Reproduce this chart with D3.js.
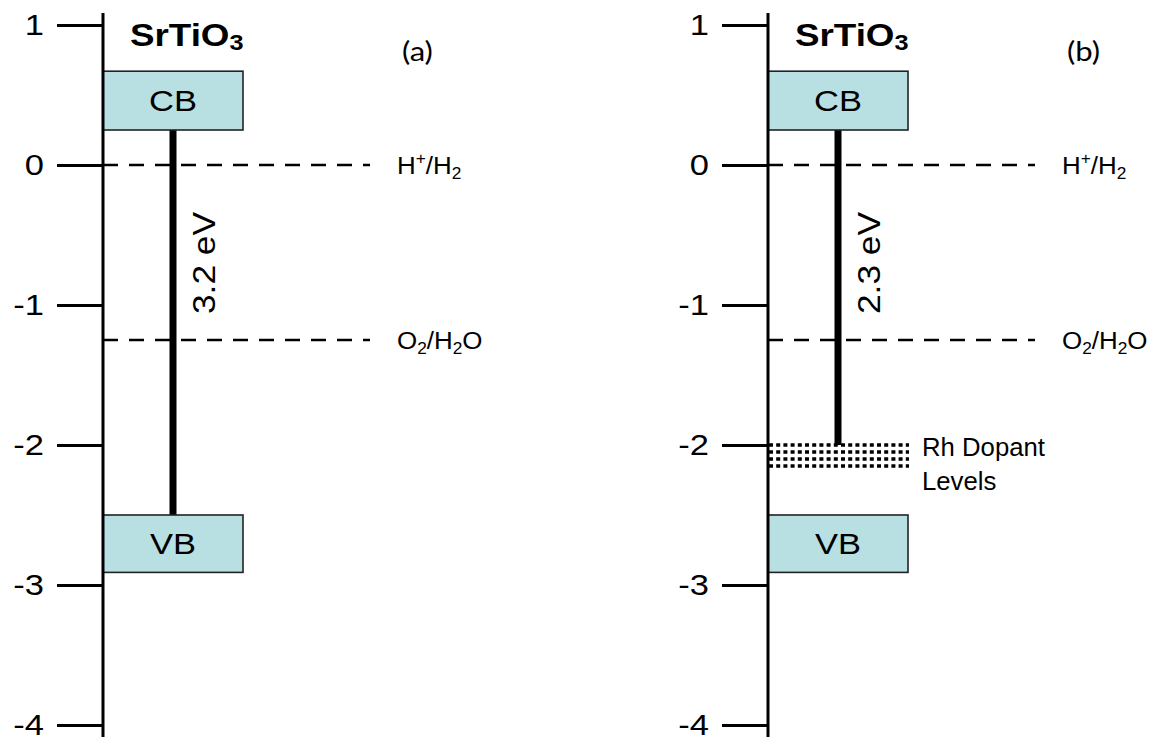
<!DOCTYPE html>
<html>
<head>
<meta charset="utf-8">
<script src="https://cdn.jsdelivr.net/npm/d3@7"></script>
<style>
  html, body { margin: 0; padding: 0; background: #fff; }
  svg { display: block; }
  text { font-family: "Liberation Sans", Arial, sans-serif; fill: #000; }
</style>
</head>
<body>
<svg id="chart" width="1152" height="738"></svg>
<script>
// Energy (V vs NHE) of the SrTiO3 bands, with and without Rh doping
const panelLabels = ["(a)", "(b)"];
const materialName = "SrTiO";
const materialSub = "3";
const yTickValues = [1, 0, -1, -2, -3, -4];
const cbEdges = [0.25, 0.67];          // conduction band bottom / top
const vbEdges = [-2.91, -2.5];         // valence band bottom / top
const redoxNames = [["H", "+", "/H", "2", ""], ["O", "2", "/H", "2", "O"]];
const redoxPotentials = [0, -1.25];
const gapLabels = ["3.2 eV", "2.3 eV"];
const gapLower = [-2.5, -2.0];         // lower end of the transition bar
const dopantLevels = [-2.0, -2.05, -2.1, -2.15];
const dopantLabel = ["Rh Dopant", "Levels"];

const svg = d3.select("#chart");

const y = d3.scaleLinear().domain([1, -4]).range([25, 725]);
// horizontal placement of the two panels (axis positions)
const xPanel = d3.scaleOrdinal().domain(panelLabels).range([103, 768]);

const boxW = 140, tickLen = 46, dashEnd = 267, labelOff = 294;
const stretch = 1.15;

function stretchedText(g, x, yy, str, opts) {
  const t = g.append("text")
    .attr("transform", `translate(${x},${yy}) scale(${opts.sx || stretch},1)`)
    .attr("font-size", opts.size)
    .attr("text-anchor", opts.anchor || "start")
    .attr("dominant-baseline", opts.baseline || "central");
  if (opts.weight) t.attr("font-weight", opts.weight);
  t.text(str);
  return t;
}

panelLabels.forEach((lab, i) => {
  const x0 = xPanel(lab);
  const g = svg.append("g");

  // dashed redox potential lines
  g.selectAll("line.redox").data(redoxPotentials).enter().append("line")
    .attr("x1", x0).attr("x2", x0 + dashEnd)
    .attr("y1", d => y(d)).attr("y2", d => y(d))
    .attr("stroke", "#000").attr("stroke-width", 2.6)
    .attr("stroke-dasharray", "15,11");

  // Rh dopant levels (panel b only)
  if (i === 1) {
    g.selectAll("line.dop").data(dopantLevels).enter().append("line")
      .attr("x1", x0 + 1).attr("x2", x0 + boxW + 1)
      .attr("y1", d => y(d)).attr("y2", d => y(d))
      .attr("stroke", "#000").attr("stroke-width", 3.6)
      .attr("stroke-dasharray", "4,3.2");
  }

  // band gap transition bar
  g.append("line")
    .attr("x1", x0 + boxW / 2).attr("x2", x0 + boxW / 2)
    .attr("y1", y(cbEdges[0])).attr("y2", y(gapLower[i]))
    .attr("stroke", "#000").attr("stroke-width", 7);

  // band boxes
  const bands = [{ name: "CB", e: cbEdges }, { name: "VB", e: vbEdges }];
  bands.forEach(b => {
    g.append("rect")
      .attr("x", x0).attr("y", y(b.e[1]))
      .attr("width", boxW).attr("height", y(b.e[0]) - y(b.e[1]))
      .attr("fill", "#b8dfe2").attr("stroke", "#222").attr("stroke-width", 1.6);
    stretchedText(g, x0 + boxW / 2, (y(b.e[0]) + y(b.e[1])) / 2, b.name,
      { size: 30, anchor: "middle" });
  });

  // energy axis
  const axis = d3.axisLeft(y).tickValues(yTickValues).tickSize(tickLen).tickFormat("");
  const ag = g.append("g").attr("transform", `translate(${x0},0)`).call(axis);
  ag.select(".domain").remove();
  ag.selectAll(".tick line").attr("stroke", "#000").attr("stroke-width", 3);
  ag.selectAll(".tick text").remove();
  yTickValues.forEach(v => {
    stretchedText(g, x0 - tickLen - 13, y(v), d3.format("d")(v).replace("−", "-"),
      { size: 30, anchor: "end" });
  });
  g.append("line")
    .attr("x1", x0).attr("x2", x0)
    .attr("y1", y(1) - 12).attr("y2", y(-4) + 12)
    .attr("stroke", "#000").attr("stroke-width", 3);

  // title with subscript
  const title = g.append("text")
    .attr("transform", `translate(${x0 + 27},46) scale(1.15,1)`)
    .attr("font-size", 32).attr("font-weight", "bold");
  title.append("tspan").text(materialName);
  title.append("tspan").attr("font-size", 22).attr("dy", 4).text(materialSub);

  // panel tag
  g.append("text")
    .attr("transform", `translate(${x0 + 299},50) scale(1.15,1)`)
    .attr("dominant-baseline", "central")
    .attr("font-size", 27)
    .style("font-family", "Lato, 'Open Sans', sans-serif")
    .text(lab);

  // redox couple labels
  redoxNames.forEach((parts, k) => {
    const t = g.append("text")
      .attr("transform", `translate(${x0 + labelOff},${y(redoxPotentials[k]) + 9}) scale(1.08,1)`)
      .attr("font-size", 24);
    const supFirst = k === 0;
    t.append("tspan").text(parts[0]);
    t.append("tspan").attr("font-size", 16).attr("dy", supFirst ? -10 : 5).text(parts[1]);
    t.append("tspan").attr("dy", supFirst ? 10 : -5).text(parts[2]);
    t.append("tspan").attr("font-size", 16).attr("dy", 5).text(parts[3]);
    if (parts[4]) t.append("tspan").attr("dy", -5).text(parts[4]);
  });

  // band gap label, rotated
  g.append("text")
    .attr("transform", `translate(${x0 + boxW / 2 + 31},263) rotate(-90) scale(1.14,1)`)
    .attr("font-size", 31)
    .attr("text-anchor", "middle")
    .attr("dominant-baseline", "central")
    .text(gapLabels[i]);

  if (i === 1) {
    dopantLabel.forEach((s, k) => {
      stretchedText(g, x0 + 154, y(dopantLevels[0]) + 2 + k * 34, s,
        { size: 25, sx: 1.03 });
    });
  }
});
</script>
</body>
</html>
